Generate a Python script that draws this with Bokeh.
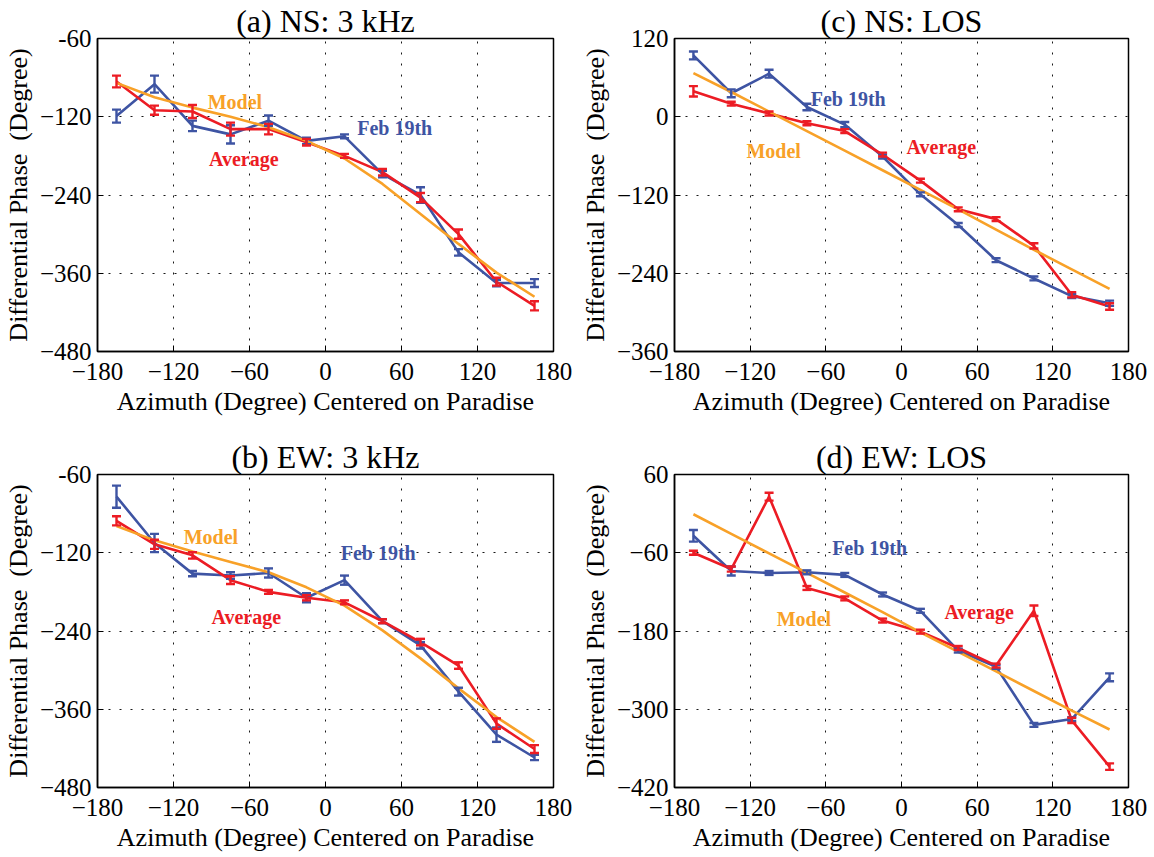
from bokeh.plotting import figure
from bokeh.layouts import gridplot
from bokeh.models import Whisker, ColumnDataSource, FixedTicker, Range1d, Label, TeeHead
from bokeh.embed import file_html
from bokeh.resources import INLINE

azimuth = [-165, -135, -105, -75, -45, -15, 15, 45, 75, 105, 135, 165]
x_ticks = [-180, -120, -60, 0, 60, 120, 180]

# (a) NS: 3 kHz
a_feb = [-119, -70, -134, -147, -126, -157, -150, -208, -240, -328, -375, -375]
a_feb_err = [10, 13, 8, 14, 8, 5, 3, 5, 12, 5, 5, 6]
a_avg = [-66, -110, -112, -139, -139, -159, -180, -205, -244, -300, -373, -410]
a_avg_err = [9, 7, 10, 10, 8, 5, 3, 5, 7, 7, 6, 7]
a_model = [-68, -90, -106, -120, -136, -157, -184, -223, -269, -315, -359, -396]

# (b) EW: 3 kHz
b_feb = [-34, -105, -152, -155, -151, -189, -162, -225, -262, -333, -399, -434]
b_feb_err = [17, 14, 4, 5, 7, 7, 7, 3, 5, 6, 11, 4]
b_avg = [-71, -107, -124, -162, -180, -189, -196, -225, -257, -293, -382, -421]
b_avg_err = [7, 7, 5, 6, 3, 4, 3, 3, 5, 5, 8, 6]
b_model = [-79, -101, -118, -134, -150, -173, -201, -239, -282, -328, -372, -410]

# (c) NS: LOS
c_feb = [94, 36, 66, 15, -12, -61, -119, -166, -220, -248, -275, -286]
c_feb_err = [6, 6, 6, 5, 4, 3, 3, 3, 3, 3, 3, 4]
c_avg = [39, 20, 5, -10, -22, -58, -98, -142, -157, -198, -273, -291]
c_avg_err = [8, 3, 3, 3, 3, 3, 3, 3, 3, 4, 4, 5]
c_model = [67, 38, 8, -22, -52, -82, -112, -142, -173, -204, -234, -264]

# (d) EW: LOS
d_feb = [-34, -88, -91, -90, -94, -124, -149, -210, -235, -324, -315, -251]
d_feb_err = [9, 7, 3, 3, 3, 3, 3, 3, 3, 3, 3, 6]
d_avg = [-60, -85, 26, -114, -130, -164, -181, -206, -233, -149, -317, -388]
d_avg_err = [3, 4, 6, 3, 3, 3, 3, 3, 3, 8, 4, 5]
d_model = [-1, -31, -61, -91, -121, -151, -182, -212, -242, -272, -302, -331]

BLUE = "#3E54A3"
RED = "#EC1C24"
ORANGE = "#F8A128"
FONT = "Liberation Serif"
AXFONT = "'Liberation Serif', 'Times New Roman', serif"


def panel(title, feb, feb_err, avg, avg_err, model, yr, yticks, overrides,
          labels, height, btop, bbot, bright):
    p = figure(width=577, height=height, x_range=Range1d(-180, 180),
               y_range=Range1d(*yr), output_backend="svg", toolbar_location=None,
               min_border_left=93, min_border_right=bright,
               min_border_top=btop, min_border_bottom=bbot)
    p.title.text = title
    p.title.align = "center"
    p.title.text_font = FONT
    p.title.text_font_size = "32px"
    p.title.text_font_style = "normal"
    p.title.text_color = "black"
    p.title.standoff = 0
    p.xaxis.ticker = FixedTicker(ticks=x_ticks)
    p.yaxis.ticker = FixedTicker(ticks=yticks)
    if overrides:
        p.yaxis.major_label_overrides = overrides
    p.xaxis.axis_label = "Azimuth (Degree) Centered on Paradise"
    p.yaxis.axis_label = "Differential Phase\u00a0 (Degree)"
    for ax in (p.xaxis, p.yaxis):
        ax.major_tick_in = 6
        ax.major_tick_out = 0
        ax.minor_tick_line_color = None
        ax.axis_line_width = 1.5
        ax.major_tick_line_width = 1
        ax.major_label_text_font = AXFONT
        ax.major_label_text_font_size = "25px"
        ax.major_label_text_color = "black"
        ax.axis_label_text_font = AXFONT
        ax.axis_label_text_font_size = "26px"
        ax.axis_label_text_font_style = "normal"
        ax.axis_label_text_color = "black"
    p.xaxis.major_label_standoff = 11
    p.yaxis.major_label_standoff = 6
    p.xaxis.axis_label_standoff = 4
    p.yaxis.axis_label_standoff = 4
    p.outline_line_color = "black"
    p.outline_line_width = 1.5
    p.outline_line_alpha = 1
    for g in (p.xgrid, p.ygrid):
        g.grid_line_color = "black"
        g.grid_line_dash = "2 9"
        g.grid_line_width = 1
        g.grid_line_alpha = 0.9

    for vals, errs, col in ((feb, feb_err, BLUE), (avg, avg_err, RED)):
        src = ColumnDataSource(dict(
            x=azimuth, y=vals,
            upper=[v + e for v, e in zip(vals, errs)],
            lower=[v - e for v, e in zip(vals, errs)]))
        p.line("x", "y", source=src, line_color=col, line_width=2.6)
        w = Whisker(source=src, base="x", upper="upper", lower="lower",
                    line_color=col, line_width=2.4, level="glyph",
                    upper_head=TeeHead(size=9, line_color=col, line_width=2.4),
                    lower_head=TeeHead(size=9, line_color=col, line_width=2.4))
        p.add_layout(w)
    p.line(azimuth, model, line_color=ORANGE, line_width=2.6)

    for txt, lx, ly, col in labels:
        p.add_layout(Label(x=lx, y=ly, text=txt, text_color=col, text_font=FONT,
                           text_font_style="bold", text_font_size="20px",
                           text_baseline="middle", text_align="left"))
    return p


pa = panel("(a) NS: 3 kHz", a_feb, a_feb_err, a_avg, a_avg_err, a_model,
           (-480, 0), [-480, -360, -240, -120, 0], {0: "-60"},
           [("Model", -93, -97, ORANGE), ("Feb 19th", 25, -137, BLUE),
            ("Average", -92, -185, RED)],
           428, 38, 77, 24)
pc = panel("(c) NS: LOS", c_feb, c_feb_err, c_avg, c_avg_err, c_model,
           (-360, 120), [-360, -240, -120, 0, 120], None,
           [("Model", -123, -53, ORANGE), ("Feb 19th", -72, 27, BLUE),
            ("Average", 4, -47, RED)],
           428, 38, 77, 26)
pb = panel("(b) EW: 3 kHz", b_feb, b_feb_err, b_avg, b_avg_err, b_model,
           (-480, 0), [-480, -360, -240, -120, 0], {0: "-60"},
           [("Model", -112, -96, ORANGE), ("Feb 19th", 12, -121, BLUE),
            ("Average", -90, -219, RED)],
           429, 46, 70, 24)
pd_ = panel("(d) EW: LOS", d_feb, d_feb_err, d_avg, d_avg_err, d_model,
            (-420, 60), [-420, -300, -180, -60, 60], None,
            [("Model", -99, -161, ORANGE), ("Feb 19th", -55, -53, BLUE),
             ("Average", 34, -151, RED)],
            429, 46, 70, 26)

layout = gridplot([[pa, pc], [pb, pd_]], toolbar_location=None)
open("out.html", "w").write(file_html(layout, INLINE))
